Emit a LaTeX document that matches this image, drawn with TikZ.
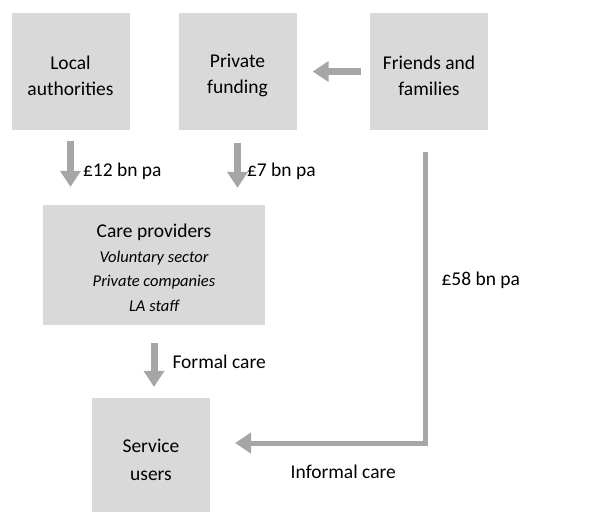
\documentclass[tikz,border=0pt]{standalone}
\usepackage{fontspec}
\setmainfont{Carlito}
\usetikzlibrary{arrows.meta}
\definecolor{boxgray}{HTML}{D9D9D9}
\definecolor{arrowgray}{HTML}{A6A6A6}
\tikzset{
  fundbox/.style={fill=boxgray,minimum width=118pt,minimum height=117pt,inner sep=0pt},
  boxtext/.style={align=center,font=\fontsize{19.5}{26}\selectfont,inner sep=0pt,yshift=-4pt},
  flow/.style={draw=arrowgray,line width=7pt,
    -{Triangle[width=20pt,length=16pt]}},
  lbl/.style={font=\fontsize{19.5}{22}\selectfont,inner sep=2pt}
}
\newcommand{\sub}[1]{{\fontsize{16.5}{24.5}\selectfont\itshape #1}}
\begin{document}
\begin{tikzpicture}[x=1pt,y=-1pt]
\useasboundingbox (0,0) rectangle (592,512);
% funding sources
\node[fundbox,label={[boxtext]center:Local\\authorities}] (la) at (70.5,71.5) {};
\node[fundbox,label={[boxtext]center:Private\\funding}] (pf) at (237.5,71.5) {};
\node[fundbox,label={[boxtext]center:Friends and\\families}] (fam) at (429,71.5) {};
% providers and users
\node[fundbox,minimum width=222pt,minimum height=120pt,
  label={[boxtext,yshift=1pt,font=\fontsize{19.5}{24.5}\selectfont]center:Care providers\\\sub{Voluntary sector}\\\sub{Private companies}\\\sub{LA staff}}]
  (care) at (154,265) {};
\node[fundbox,minimum height=114pt,
  label={[boxtext,yshift=-1pt,font=\fontsize{19.5}{28}\selectfont]center:Service\\users}] (su) at (151,455) {};
\coordinate (famout) at (425,152);
\coordinate (inf) at (210,443);
% money and care flows
\draw[flow,shorten <=9pt,shorten >=16pt] (fam.west) -- (pf.east);
\draw[flow,shorten <=11pt,shorten >=18pt] (la.south) -- (la.south |- care.north)
  node[lbl,midway,right=7pt,yshift=-4pt] {£12 bn pa};
\draw[flow,shorten <=13pt,shorten >=17pt] (pf.south) -- (pf.south |- care.north)
  node[lbl,midway,right=4pt,yshift=-4pt] {£7 bn pa};
\draw[flow,shorten <=18pt,shorten >=11pt] (care.south) -- (care.south |- su.north)
  node[lbl,midway,right=13pt] {Formal care};
\draw[flow,line width=5pt,shorten >=25pt] (famout) |- (inf)
  node[lbl,pos=0.22,right=12pt] {£58 bn pa}
  node[lbl,pos=0.69,below=17pt] {Informal care};
\end{tikzpicture}
\end{document}
